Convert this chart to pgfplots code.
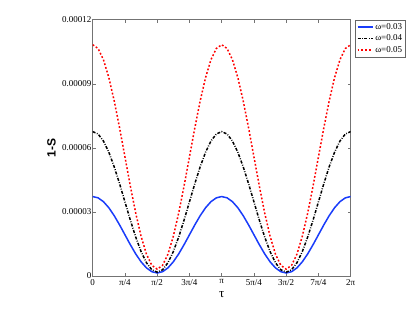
\documentclass[border=0pt]{standalone}
\usepackage{fontspec}
\setmainfont{Liberation Serif}
\setsansfont{Liberation Sans}
\usepackage{pgfplots}
\pgfplotsset{compat=1.18}
\usepackage{pgfplotstable}
\definecolor{mblue}{RGB}{25,60,250}

% x in degrees (0..360 = 0..2pi), y in units of 1e-6
\pgfplotstableread{
x b k r
0 37.2 67.6 108.3
7.5 36.59 66.479 106.509
15 34.802 63.192 101.26
22.5 31.957 57.964 92.908
30 28.25 51.15 82.025
37.5 23.933 43.215 69.351
45 19.3 34.7 55.75
52.5 14.667 26.185 42.149
60 10.35 18.25 29.475
67.5 6.643 11.436 18.592
75 3.798 6.208 10.24
82.5 2.01 2.921 4.991
90 1.4 1.8 3.2
97.5 2.01 2.921 4.991
105 3.798 6.208 10.24
112.5 6.643 11.436 18.592
120 10.35 18.25 29.475
127.5 14.667 26.185 42.149
135 19.3 34.7 55.75
142.5 23.933 43.215 69.351
150 28.25 51.15 82.025
157.5 31.957 57.964 92.908
165 34.802 63.192 101.26
172.5 36.59 66.479 106.509
180 37.2 67.6 108.3
187.5 36.59 66.479 106.509
195 34.802 63.192 101.26
202.5 31.957 57.964 92.908
210 28.25 51.15 82.025
217.5 23.933 43.215 69.351
225 19.3 34.7 55.75
232.5 14.667 26.185 42.149
240 10.35 18.25 29.475
247.5 6.643 11.436 18.592
255 3.798 6.208 10.24
262.5 2.01 2.921 4.991
270 1.4 1.8 3.2
277.5 2.01 2.921 4.991
285 3.798 6.208 10.24
292.5 6.643 11.436 18.592
300 10.35 18.25 29.475
307.5 14.667 26.185 42.149
315 19.3 34.7 55.75
322.5 23.933 43.215 69.351
330 28.25 51.15 82.025
337.5 31.957 57.964 92.908
345 34.802 63.192 101.26
352.5 36.59 66.479 106.509
360 37.2 67.6 108.3
}\data

\begin{document}
\begin{tikzpicture}
\path[use as bounding box] (-92.7pt,-34pt) rectangle (322.3pt,276pt);
\begin{axis}[
  at={(0pt,0pt)}, anchor=south west,
  scale only axis, width=258pt, height=256.3pt,
  xmin=0, xmax=360, ymin=0, ymax=120,
  xtick={0,45,...,360},
  xticklabels={0,π/4,π/2,3π/4,π,5π/4,3π/2,7π/4,2π},
  ytick={0,30,60,90,120},
  yticklabels={0,0.00003,0.00006,0.00009,0.00012},
  tick align=inside, major tick length=3pt,
  axis line style={black!55},
  tick style={black!55, line width=0.4pt},
  ticklabel style={font=\fontsize{9}{10}\selectfont, inner sep=1pt},
  xticklabel style={yshift=-2pt},
  xlabel={τ},
  xlabel style={font=\fontsize{13}{13}\selectfont, at={(axis description cs:0.5,-0.074)}, anchor=center},
  ylabel={1-S},
  ylabel style={font=\fontsize{12}{12}\selectfont\sffamily\bfseries, at={(axis description cs:-0.16,0.5)}, anchor=center, rotate=0},
  legend style={at={(1.017,1.0)}, anchor=north west, draw=black!60, font=\fontsize{9}{10}\selectfont, inner sep=1.5pt, row sep=0pt, cells={anchor=west}},
  legend image code/.code={\draw[#1] (0pt,0pt) -- (15pt,0pt);},
]
\addplot[mblue, line width=1.5pt] table[x=x, y=b] {\data};
\addlegendentry{ω=0.03}
\addplot[black, line width=1.5pt, dash pattern=on 3pt off 1.5pt on 0.8pt off 1.5pt] table[x=x, y=k] {\data};
\addlegendentry{ω=0.04}
\addplot[red, line width=1.5pt, dash pattern=on 1.8pt off 2pt] table[x=x, y=r] {\data};
\addlegendentry{ω=0.05}
\end{axis}
\end{tikzpicture}
\end{document}
